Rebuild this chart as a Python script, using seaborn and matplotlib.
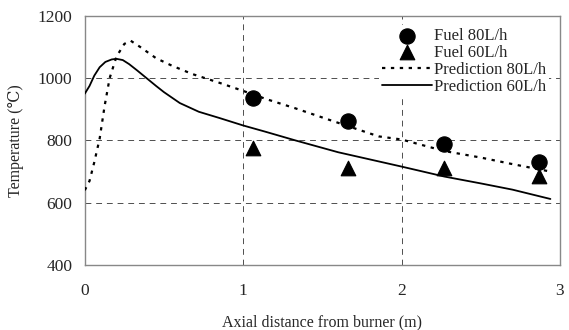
import matplotlib
matplotlib.use("Agg")
import matplotlib.pyplot as plt
import seaborn as sns
import pandas as pd

# Measured points
meas_x = [1.06, 1.66, 2.27, 2.87]
fuel80 = [935, 862, 790, 730]
fuel60 = [775, 712, 712, 685]

# Prediction curves
pred80_x = [0.0, 0.03, 0.06, 0.094, 0.125, 0.157, 0.2, 0.25, 0.29, 0.35, 0.45, 0.55, 0.68, 0.85, 1.0, 1.15, 1.33, 1.55, 1.855, 2.0, 2.27, 2.5, 2.69, 2.94]
pred80_y = [640, 670, 730, 806, 910, 1000, 1069, 1110, 1120, 1100, 1064, 1040, 1013, 985, 959, 932, 903, 865, 813, 803, 766, 745, 725, 700]
pred60_x = [0.0, 0.03, 0.06, 0.094, 0.13, 0.17, 0.2, 0.24, 0.28, 0.33, 0.39, 0.45, 0.5, 0.6, 0.72, 0.85, 1.0, 1.14, 1.33, 1.6, 2.0, 2.27, 2.5, 2.7, 2.94]
pred60_y = [950, 975, 1008, 1035, 1052, 1060, 1062, 1058, 1045, 1025, 1000, 975, 955, 920, 892, 872, 848, 828, 800, 762, 716, 684, 662, 642, 612]

x_ticks = [0, 1, 2, 3]
y_ticks = [400, 600, 800, 1000, 1200]

sns.set_theme(style="white")
plt.rcParams['font.family'] = ['Liberation Serif', 'DejaVu Serif']

fig = plt.figure(figsize=(5.69, 3.3), dpi=100)
ax = fig.add_axes([0.149, 0.197, 0.835, 0.755])

df80 = pd.DataFrame({"x": pred80_x, "y": pred80_y})
df60 = pd.DataFrame({"x": pred60_x, "y": pred60_y})
dm = pd.DataFrame({"x": meas_x, "f80": fuel80, "f60": fuel60})

sns.scatterplot(data=dm, x="x", y="f80", ax=ax, marker="o", s=120, color="black", edgecolor="black", label="Fuel 80L/h", zorder=4)
sns.scatterplot(data=dm, x="x", y="f60", ax=ax, marker="^", s=110, color="black", edgecolor="black", label="Fuel 60L/h", zorder=4)
sns.lineplot(data=df80, x="x", y="y", ax=ax, color="black", linestyle=(0, (1.5, 2.5)), linewidth=1.6, label="Prediction 80L/h", zorder=3)
sns.lineplot(data=df60, x="x", y="y", ax=ax, color="black", linestyle="-", linewidth=1.3, label="Prediction 60L/h", zorder=3)

ax.set_xlim(0, 3)
ax.set_ylim(400, 1200)
ax.set_xticks(x_ticks)
ax.set_yticks(y_ticks)
ax.set_xticklabels([str(v) for v in x_ticks], fontsize=12.5)
ax.set_yticklabels([str(v) for v in y_ticks], fontsize=12.5)
ax.tick_params(axis="x", length=0, pad=13)
ax.tick_params(axis="y", length=0, pad=9)
ax.grid(True, color="#222222", linestyle=(0, (6, 5)), linewidth=0.7, alpha=0.8)
for s in ax.spines.values():
    s.set_color("#888888")
    s.set_linewidth(1.0)

ax.set_xlabel("Axial distance from burner (m)", fontsize=11.5, labelpad=11)
ax.set_ylabel("Temperature (\u2103)", fontsize=11.5, labelpad=10)

leg = ax.legend(loc="upper right", bbox_to_anchor=(0.995, 0.998), fontsize=12, frameon=True,
                facecolor="white", edgecolor="none", framealpha=1.0, handlelength=3.0,
                labelspacing=0.05, borderpad=0.2, handletextpad=0.1)

fig.savefig("out.png", dpi=100)
